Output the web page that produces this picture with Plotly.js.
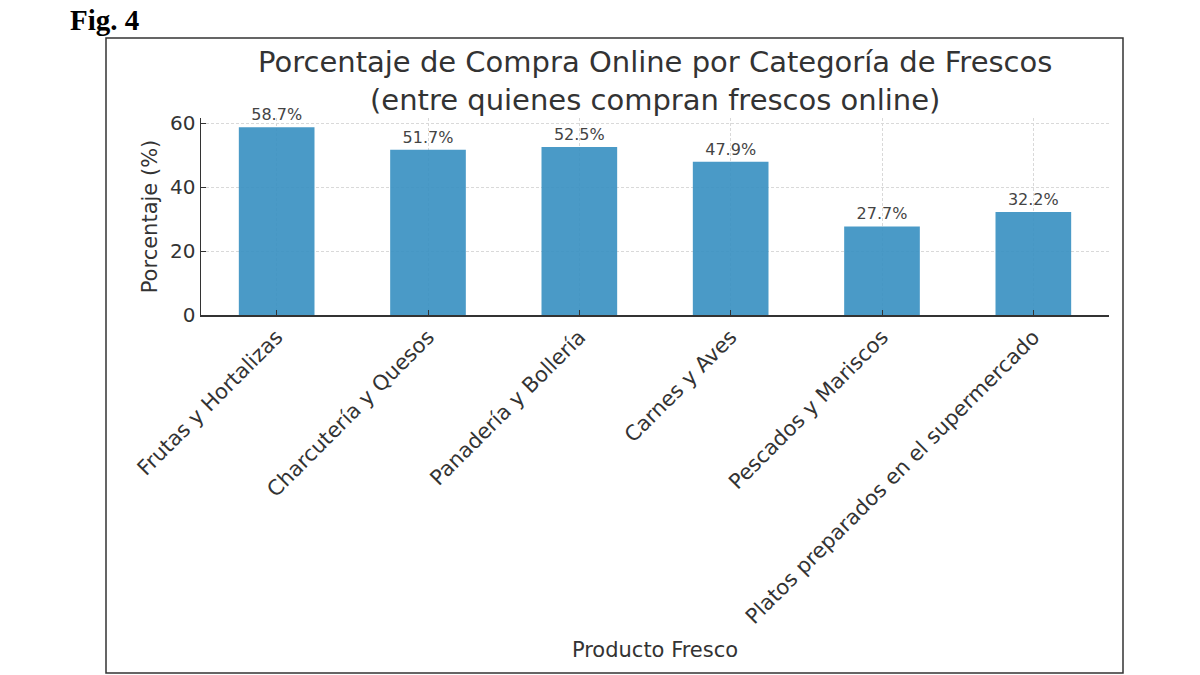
<!DOCTYPE html>
<html>
<head>
<meta charset="utf-8">
<script src="https://cdn.plot.ly/plotly-3.0.1.min.js"></script>
<style>
  html, body { margin: 0; padding: 0; background: #fff; }
  #chart { width: 1200px; height: 675px; }
</style>
</head>
<body>
<div id="chart"></div>
<script>
// data
const categories = [
  "Frutas y Hortalizas",
  "Charcutería y Quesos",
  "Panadería y Bollería",
  "Carnes y Aves",
  "Pescados y Mariscos",
  "Platos preparados en el supermercado"
];
const percentages = [58.7, 51.7, 52.5, 47.9, 27.7, 32.2];

const font = "DejaVu Sans, Verdana, sans-serif";

const trace = {
  type: "bar",
  x: categories,
  y: percentages,
  width: 0.5,
  marker: { color: "rgb(54,143,193)", opacity: 0.9 },
  texttemplate: "%{y:.1f}%",
  textposition: "outside",
  cliponaxis: false,
  textfont: { family: font, size: 16, color: "#444" },
  hoverinfo: "x+y"
};

const layout = {
  width: 1200,
  height: 675,
  margin: { l: 201, r: 91, t: 118, b: 360 },
  paper_bgcolor: "#fff",
  plot_bgcolor: "#fff",
  showlegend: false,
  bargap: 0.5,
  title: {
    text: "Porcentaje de Compra Online por Categoría de Frescos<br>(entre quienes compran frescos online)",
    font: { family: font, size: 29, color: "#333" },
    x: 0.546, xanchor: "center",
    y: 0.893, yanchor: "top"
  },
  xaxis: {
    range: [-0.5, 5.5],
    tickangle: -45,
    ticks: "inside",
    ticklen: 5,
    tickcolor: "#333",
    tickfont: { family: font, size: 21, color: "#333" },
    showline: true,
    linecolor: "#333",
    linewidth: 1.5,
    showgrid: true,
    gridcolor: "#d9d9d9",
    griddash: "3px,2px",
    gridwidth: 1,
    title: {
      text: "Producto Fresco",
      font: { family: font, size: 21, color: "#333" },
      standoff: 14
    },
    automargin: false
  },
  yaxis: {
    range: [0, 61.6],
    tickvals: [0, 20, 40, 60],
    ticks: "inside",
    ticklen: 5,
    tickcolor: "#333",
    tickfont: { family: font, size: 20, color: "#333" },
    showline: true,
    linecolor: "#333",
    linewidth: 1.5,
    zeroline: false,
    showgrid: true,
    gridcolor: "#d9d9d9",
    griddash: "3px,2px",
    gridwidth: 1,
    title: {
      text: "Porcentaje (%)",
      font: { family: font, size: 21, color: "#333" },
      standoff: 6
    },
    automargin: false
  },
  shapes: [
    {
      type: "rect", xref: "paper", yref: "paper",
      x0: -95 / 908, x1: 922 / 908,
      y0: -358 / 197, y1: 277 / 197,
      line: { color: "#333", width: 1.5 },
      fillcolor: "rgba(0,0,0,0)",
      layer: "below"
    }
  ],
  annotations: [
    {
      text: "<b>Fig. 4</b>",
      xref: "paper", yref: "paper",
      x: -133 / 908, y: 295 / 197,
      xanchor: "left", yanchor: "middle",
      showarrow: false,
      font: { family: "Liberation Serif, Times New Roman, serif", size: 29, color: "#000" }
    }
  ]
};

Plotly.newPlot("chart", [trace], layout, { displayModeBar: false, staticPlot: true });
</script>
</body>
</html>
